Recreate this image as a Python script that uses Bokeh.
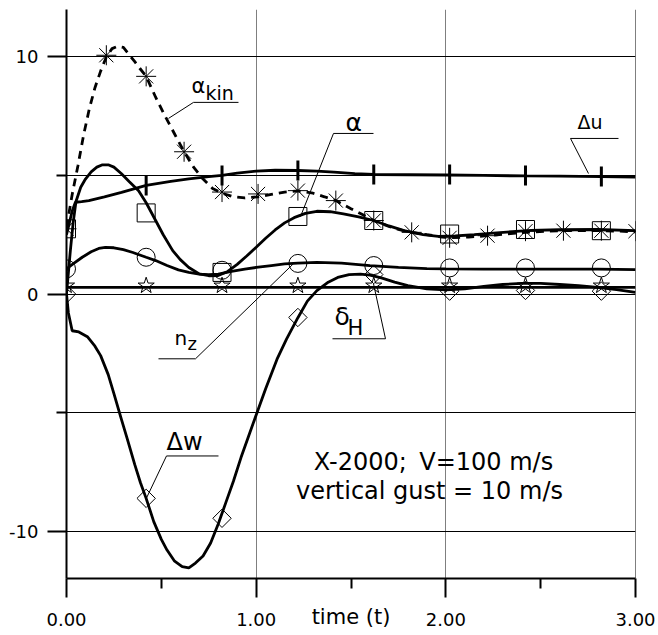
import numpy as np
from bokeh.plotting import figure
from bokeh.models import FixedTicker, Span, Label, Range1d, CustomJSTickFormatter
from bokeh.embed import file_html
from bokeh.resources import INLINE

# ---------------- data ----------------
x_ticks = [0, 1, 2, 3]
x_minor = [0.5, 1.5, 2.5]
y_ticks = [-10, 0, 10]
y_minor = [-5, 5]
y_grid = [-10, -5, 0, 5, 10]

# Delta w (diamonds)
dw_t = [0, 0.01, 0.03, 0.065, 0.11, 0.15, 0.18, 0.22, 0.25, 0.29, 0.32, 0.36, 0.39, 0.42, 0.46,
        0.5, 0.53, 0.57, 0.61, 0.645, 0.68, 0.72, 0.76, 0.8, 0.84, 0.88, 0.92, 0.96, 1.0, 1.05,
        1.11, 1.16, 1.22, 1.27, 1.32, 1.38, 1.43, 1.49, 1.55, 1.6, 1.66, 1.73, 1.8, 1.9, 2.0,
        2.1, 2.2, 2.3, 2.4, 2.5, 2.6, 2.7, 2.8, 2.9, 3.0]
dw_v = [0, -0.8, -1.55, -1.6, -1.8, -2.2, -2.6, -3.4, -4.2, -5.3, -6.1, -7.2, -7.96, -8.62, -9.6,
        -10.35, -10.8, -11.27, -11.5, -11.55, -11.35, -11.05, -10.5, -9.7, -8.8, -7.9, -6.9, -6.0, -5.1, -4.0,
        -2.75, -1.9, -1.0, -0.3, 0.14, 0.5, 0.7, 0.82, 0.84, 0.8, 0.68, 0.5, 0.35, 0.22, 0.17,
        0.22, 0.32, 0.4, 0.45, 0.45, 0.4, 0.35, 0.28, 0.18, 0.07]
dw_mt = [0, 0.42, 0.82, 1.22, 1.62, 2.02, 2.42, 2.82]
dw_mv = [0, -8.62, -9.46, -0.99, 0.82, 0.12, 0.15, 0.12]

# alpha (squares)
al_t = [0, 0.01, 0.02, 0.035, 0.05, 0.075, 0.1, 0.13, 0.16, 0.19, 0.22, 0.25, 0.29, 0.33, 0.38,
        0.42, 0.47, 0.51, 0.56, 0.6, 0.645, 0.7, 0.75, 0.8, 0.85, 0.9, 0.95, 1.0, 1.05, 1.1,
        1.15, 1.2, 1.26, 1.32, 1.39, 1.46, 1.54, 1.62, 1.7, 1.78, 1.88, 1.96, 2.05, 2.15, 2.25,
        2.35, 2.45, 2.6, 2.8, 3.0]
al_v = [0, 0.9, 1.8, 3.0, 3.9, 4.5, 4.85, 5.15, 5.35, 5.45, 5.45, 5.35, 5.07, 4.75, 4.36,
        3.85, 3.1, 2.5, 1.83, 1.45, 1.12, 0.85, 0.77, 0.78, 0.95, 1.25, 1.6, 1.97, 2.35, 2.7,
        3.0, 3.22, 3.4, 3.49, 3.47, 3.38, 3.25, 3.1, 2.87, 2.67, 2.5, 2.43, 2.45, 2.5, 2.57,
        2.63, 2.68, 2.71, 2.72, 2.67]
al_mt = [0, 0.42, 0.82, 1.22, 1.62, 2.02, 2.42, 2.82]
al_mv = [2.75, 3.42, 0.91, 3.27, 3.1, 2.53, 2.72, 2.67]

# n_z (circles)
nz_t = [0, 0.01, 0.04, 0.083, 0.13, 0.17, 0.205, 0.25, 0.3, 0.35, 0.42, 0.47, 0.53, 0.59, 0.645,
        0.7, 0.75, 0.8, 0.87, 0.94, 1.0, 1.08, 1.15, 1.22, 1.32, 1.45, 1.6, 1.75, 1.9, 2.0,
        2.2, 2.5, 2.8, 3.0]
nz_v = [1.0, 1.12, 1.3, 1.55, 1.78, 1.92, 1.97, 1.95, 1.87, 1.75, 1.55, 1.41, 1.2, 1.02, 0.91,
        0.84, 0.82, 0.84, 0.95, 1.05, 1.12, 1.2, 1.27, 1.3, 1.33, 1.3, 1.2, 1.12, 1.07, 1.06,
        1.05, 1.05, 1.05, 1.03]
nz_mt = [0, 0.42, 0.82, 1.22, 1.62, 2.02, 2.42, 2.82]
nz_mv = [1.06, 1.55, 1.0, 1.29, 1.2, 1.1, 1.1, 1.1]

# delta_H (stars)
dh_t = [0, 3.0]
dh_v = [0.28, 0.28]
dh_mt = [0, 0.42, 0.82, 1.22, 1.62, 2.02, 2.42, 2.82]
dh_mv = [0.35, 0.35, 0.35, 0.35, 0.35, 0.35, 0.35, 0.35]

# Delta u (vertical ticks)
du_t = [0, 0.015, 0.03, 0.047, 0.08, 0.118, 0.2, 0.29, 0.42, 0.55, 0.645, 0.75, 0.82, 0.9, 1.0,
        1.1, 1.22, 1.32, 1.41, 1.52, 1.62, 1.8, 2.0, 2.2, 2.42, 2.6, 2.82, 3.0]
du_v = [2.5, 3.0, 3.5, 3.87, 3.9, 3.94, 4.1, 4.29, 4.58, 4.75, 4.86, 4.95, 5.0, 5.1, 5.18,
        5.22, 5.21, 5.18, 5.14, 5.08, 5.04, 5.03, 5.02, 5.0, 4.98, 4.97, 4.95, 4.93]
du_mt = [0.42, 0.82, 1.22, 1.62, 2.02, 2.42, 2.82]
du_mv = [4.58, 5.0, 5.21, 5.04, 5.04, 5.0, 4.96]

# alpha_kin (asterisks, dashed)
ak_t = [0, 0.03, 0.06, 0.09, 0.12, 0.15, 0.18, 0.21, 0.24, 0.27, 0.3, 0.33, 0.36, 0.42, 0.47,
        0.52, 0.57, 0.62, 0.67, 0.72, 0.77, 0.82, 0.88, 0.94, 1.01, 1.08, 1.15, 1.22, 1.3, 1.36,
        1.42, 1.5, 1.56, 1.62, 1.7, 1.76, 1.82, 1.9, 2.02, 2.12, 2.22, 2.32, 2.42, 2.52, 2.62,
        2.72, 2.82, 2.92, 3.0]
ak_v = [2.8, 4.2, 5.4, 6.7, 7.8, 8.7, 9.4, 10.0, 10.35, 10.45, 10.4, 10.1, 9.8, 9.18, 8.3,
        7.5, 6.75, 6.0, 5.35, 4.85, 4.45, 4.25, 4.1, 4.05, 4.1, 4.2, 4.3, 4.35, 4.25, 4.1,
        3.94, 3.6, 3.35, 3.1, 2.85, 2.7, 2.6, 2.5, 2.37, 2.4, 2.46, 2.53, 2.6, 2.64, 2.67,
        2.68, 2.67, 2.65, 2.62]
ak_mt = [0, 0.21, 0.42, 0.62, 0.82, 1.01, 1.22, 1.42, 1.62, 1.82, 2.02, 2.22, 2.42, 2.62, 2.82, 3.0]
ak_mv = [2.75, 10.07, 9.18, 6.0, 4.3, 4.22, 4.36, 3.94, 3.1, 2.6, 2.37, 2.46, 2.65, 2.67, 2.67, 2.65]

# ---------------- figure ----------------
p = figure(width=658, height=635, x_range=Range1d(0, 3), y_range=Range1d(-12, 12),
           output_backend="svg", toolbar_location=None,
           min_border_left=66, min_border_right=23, min_border_top=9, min_border_bottom=57)
p.outline_line_color = None
p.background_fill_color = "white"
p.border_fill_color = "white"

FONT = "DejaVu Sans"

for ax in (p.xaxis[0], p.yaxis[0]):
    ax.axis_line_width = 2
    ax.axis_line_color = "black"
    ax.major_tick_in = 0
    ax.minor_tick_in = 0
    ax.major_tick_out = 19
    ax.minor_tick_out = 10
    ax.major_tick_line_width = 2
    ax.minor_tick_line_width = 2
    ax.major_tick_line_color = "black"
    ax.minor_tick_line_color = "black"
    ax.major_label_text_font = FONT
    ax.major_label_text_font_size = "18px"
    ax.major_label_text_color = "black"

p.xaxis.ticker = FixedTicker(ticks=x_ticks, minor_ticks=x_minor)
p.xaxis.formatter = CustomJSTickFormatter(code="return tick.toFixed(2)")
p.xaxis.major_label_standoff = 15
p.xaxis.axis_label = "time (t)"
p.xaxis.axis_label_text_font = FONT
p.xaxis.axis_label_text_font_size = "21px"
p.xaxis.axis_label_text_font_style = "normal"
p.xaxis.axis_label_text_color = "black"
p.xaxis.axis_label_standoff = -24

p.yaxis.ticker = FixedTicker(ticks=y_ticks, minor_ticks=y_minor)
p.yaxis.formatter = CustomJSTickFormatter(code="return tick.toFixed(0)")
p.yaxis.major_label_standoff = 9

p.xgrid.ticker = FixedTicker(ticks=[1, 2])
p.xgrid.grid_line_color = "#7f7f7f"
p.xgrid.grid_line_width = 1
p.ygrid.ticker = FixedTicker(ticks=y_grid)
p.ygrid.grid_line_color = "black"
p.ygrid.grid_line_width = 1
p.add_layout(Span(location=3, dimension="height", line_color="black", line_width=1))

LW = 2.8
# curves
p.line(dh_t, dh_v, line_color="black", line_width=LW)
p.line(du_t, du_v, line_color="black", line_width=LW)
p.line(al_t, al_v, line_color="black", line_width=LW)
p.line(nz_t, nz_v, line_color="black", line_width=LW)
p.line(dw_t, dw_v, line_color="black", line_width=LW)
p.line(ak_t, ak_v, line_color="black", line_width=LW, line_dash="8 6")

# markers
p.scatter(al_mt, al_mv, marker="square", size=18, fill_color=None, line_color="black", line_width=1)
p.scatter(nz_mt, nz_mv, marker="circle", size=18, fill_color=None, line_color="black", line_width=1)
p.scatter(dh_mt, dh_mv, marker="star", size=17, fill_color=None, line_color="black", line_width=1)
p.scatter(dw_mt, dw_mv, marker="square", angle=np.pi / 4, size=13, fill_color=None,
          line_color="black", line_width=1)
p.scatter(ak_mt, ak_mv, marker="asterisk", size=20, line_color="black", line_width=1)
p.scatter(du_mt, du_mv, marker="dash", angle=np.pi / 2, size=20, line_color="black", line_width=3)

# ---------------- annotations (positions given in pixels, converted to data) ----------------
def dx(px):
    return (px - 66) / 189.67


def dy(py):
    return (293.3 - py) / 23.67


leaders = [
    ((193, 102), (238, 102)), ((193, 102), (168, 118)),   # alpha_kin
    ((333, 133), (373, 133)), ((333, 133), (300, 216)),   # alpha
    ((570, 138), (618, 138)), ((570, 138), (588, 173)),   # delta u
    ((158, 358), (195, 358)), ((195, 358), (293, 263)),   # n_z
    ((332, 338), (385, 338)), ((385, 338), (373, 283)),   # delta_H
    ((166, 455), (218, 455)), ((166, 455), (146, 497)),   # delta w
]
p.segment([dx(a[0]) for a, b in leaders], [dy(a[1]) for a, b in leaders],
          [dx(b[0]) for a, b in leaders], [dy(b[1]) for a, b in leaders],
          line_color="black", line_width=1)

SHIFT = 6  # Bokeh draws the alphabetic baseline a few pixels lower


def lab(text, px, py, size, align="left", font=FONT):
    p.add_layout(Label(x=dx(px), y=dy(py - SHIFT), text=text, text_font=font, text_font_size=size,
                       text_align=align, text_baseline="alphabetic", text_color="black"))


lab("α", 191, 92, "21px")
lab("kin", 205, 99, "19px")
lab("α", 345, 128, "25px")
lab("Δu", 577, 128, "19px")
lab("n", 174, 343, "20px")
lab("z", 187, 349, "18px")
lab("δ", 334, 322, "25px")
lab("H", 347, 333, "21px")
lab("Δw", 166, 447, "24px")
lab("X-2000;\u2009 V=100 m/s", 433, 467, "24px", align="center")
lab("vertical gust = 10 m/s", 429, 496, "24px", align="center")

open("out.html", "w").write(file_html(p, INLINE))
